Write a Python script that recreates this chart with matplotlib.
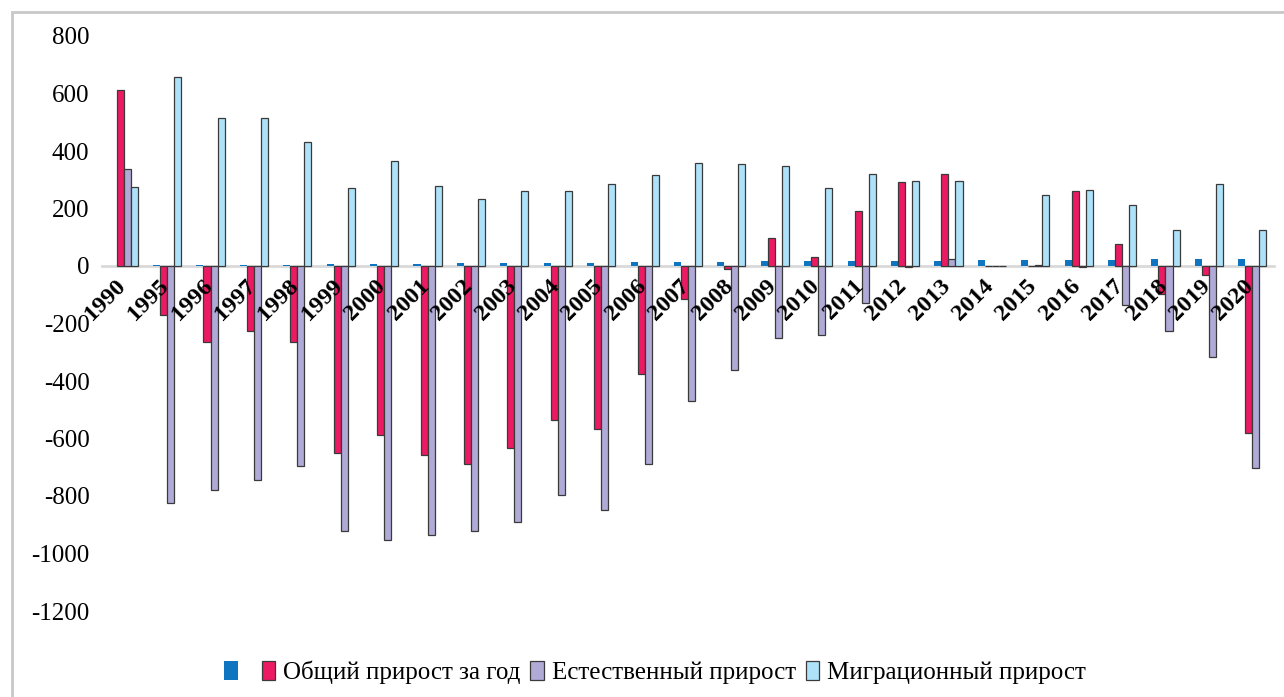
import numpy as np
import matplotlib
matplotlib.use("Agg")
import matplotlib.pyplot as plt
from matplotlib.patches import Rectangle

## data
years = ["1990", "1995", "1996", "1997", "1998", "1999", "2000", "2001", "2002", "2003",
         "2004", "2005", "2006", "2007", "2008", "2009", "2010", "2011", "2012", "2013",
         "2014", "2015", "2016", "2017", "2018", "2019", "2020"]
idx = [1, 2, 3, 5, 5, 6, 8, 8, 9, 10, 12, 12, 13, 15, 15, 16, 16, 19, 19, 19,
       22, 22, 22, 22, 25, 25, 25]
total = [613, -169, -264, -227, -264, -651, -587, -657, -688, -634, -535, -566, -376, -114,
         -9, 98, 32, 192, 292, 321, 0, 1, 262, 77, -97, -31, -580]
natural = [336, -825, -779, -744, -695, -922, -952, -935, -920, -892, -796, -848, -688, -471,
           -362, -250, -239, -128, -3, 25, 0, 2, -2, -135, -225, -318, -704]
migration = [276, 659, 515, 515, 432, 272, 366, 280, 232, 260, 262, 285, 315, 357,
             354, 347, 273, 321, 296, 297, 0, 248, 265, 213, 126, 286, 126]

labels = [" ", "Общий прирост за год", "Естественный прирост", "Миграционный прирост"]
colors = ["#0f75c1", "#eb1a63", "#afaad6", "#aee2f8"]
yticks = [800, 600, 400, 200, 0, -200, -400, -600, -800, -1000, -1200]

plt.rcParams['font.family'] = ['Liberation Serif', 'DejaVu Serif']

fig = plt.figure(figsize=(12.84, 6.97), dpi=100)
ax = fig.add_axes([102/1284, 1 - 611/697, (1274 - 102)/1284, (611 - 36)/697])

x = np.arange(len(years))
w = 0.162
series = [idx, total, natural, migration]
for i, vals in enumerate(series):
    if i == 0:
        ax.bar(x + (i - 1.5)*w, vals, w, color=colors[i], linewidth=0, label=labels[i], zorder=2)
    else:
        ax.bar(x + (i - 1.5)*w, vals, w, color=colors[i], edgecolor="#3a3a3a",
               linewidth=0.9, label=labels[i], zorder=2)

ax.set_xlim(-0.5, len(years) - 0.5)
ax.set_ylim(-1200, 800)
ax.set_yticks(yticks)
ax.set_yticklabels([str(t) for t in yticks], fontsize=18)

for s in ["top", "right", "left"]:
    ax.spines[s].set_visible(False)
ax.spines["bottom"].set_position(("data", 0))
ax.spines["bottom"].set_color("#d9d9d9")
ax.spines["bottom"].set_linewidth(2)
ax.spines["bottom"].set_zorder(1)
ax.tick_params(axis="both", length=0)
ax.tick_params(axis="y", pad=9)
ax.set_xticks(x)
ax.set_xticklabels([])

# slanted year labels hanging just under the zero line, drawn over the bars
for xi, yr in zip(x, years):
    ax.annotate(yr, (xi, 0), xytext=(-6.5, -7), textcoords="offset points",
                rotation=45, rotation_mode="anchor", ha="right", va="top",
                fontsize=17.5, fontweight="bold", zorder=5, annotation_clip=False)

leg = fig.legend(loc="center", bbox_to_anchor=(655/1284, 1 - 672/697), ncol=4,
                 frameon=False, fontsize=18, handlelength=0.55, handleheight=0.8,
                 handletextpad=0.3, columnspacing=0.4)

# light grey frame round the chart
fig.patches.append(Rectangle((12/1284, -0.05), 1.1, 1.05 - 12/697, transform=fig.transFigure,
                             fill=False, edgecolor="#c8c8c8", linewidth=2))

fig.savefig("out.png", dpi=100)
